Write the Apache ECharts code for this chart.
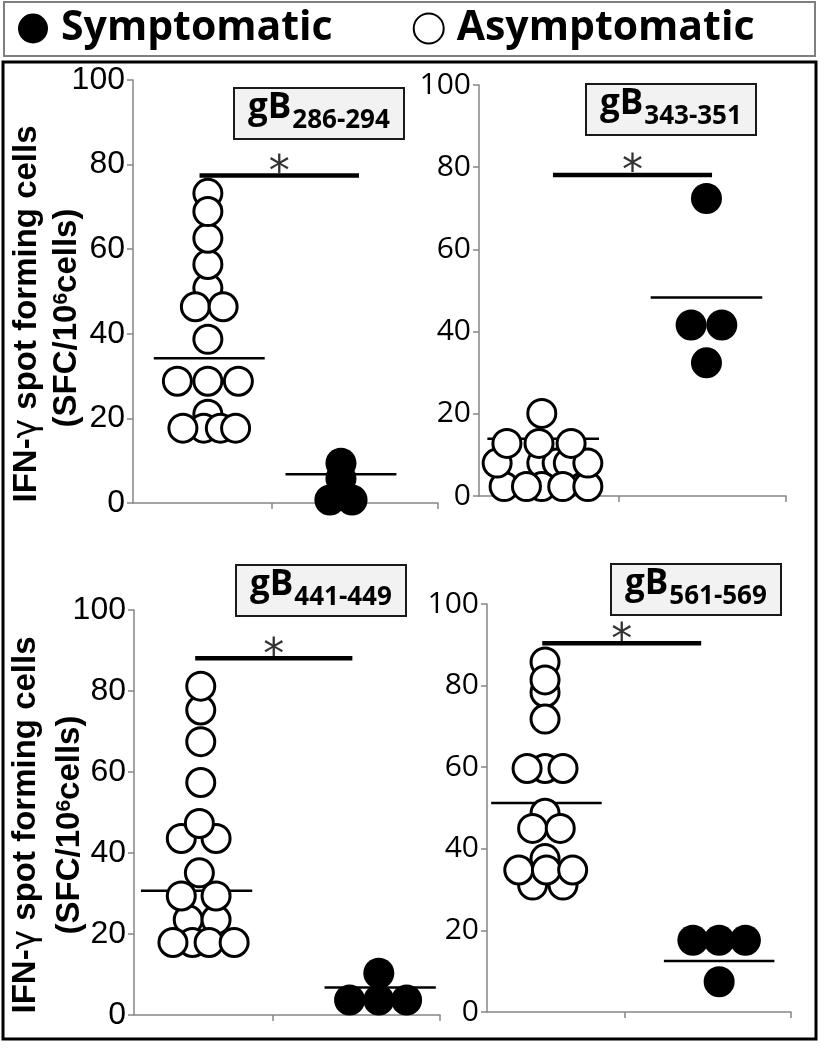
<!DOCTYPE html>
<html>
<head>
<meta charset="utf-8">
<script src="https://cdn.jsdelivr.net/npm/echarts@6/dist/echarts.min.js"></script>
<style>
  html, body { margin: 0; padding: 0; background: #fff; }
  #main { width: 820px; height: 1050px; }
</style>
</head>
<body>
<div id="main"></div>
<script>
// peptide labels
var peptides = ['286-294', '343-351', '441-449', '561-569']

// gB286-294
var asym1Y = [50.8, 21.0, 17.7, 17.7, 17.7, 17.7, 28.8, 28.8, 28.8, 38.7, 46.4, 46.4, 56.4, 62.6, 73.2, 68.9]
var asym1X = [0.54, 0.54, 0.51, 0.63, 0.36, 0.74, 0.32, 0.54, 0.76, 0.54, 0.45, 0.65, 0.54, 0.54, 0.54, 0.54]
var sym1Y = [9.4, 5.8, 0.7, 0.7]
var sym1X = [1.50, 1.50, 1.42, 1.58]
var mean1 = [34.2, 6.8]
var center1 = [0.55, 1.50]
var sig1 = [0.48, 1.63, 77.4]

// gB343-351
var asym2Y = [8.0, 8.0, 8.0, 2.3, 2.3, 2.3, 2.3, 2.3, 8.0, 8.0, 12.8, 12.8, 12.8, 20.1]
var asym2X = [0.45, 0.56, 0.64, 0.45, 0.18, 0.34, 0.60, 0.78, 0.13, 0.78, 0.20, 0.43, 0.66, 0.45]
var sym2Y = [72.4, 41.6, 41.6, 32.4]
var sym2X = [1.63, 1.52, 1.74, 1.63]
var mean2 = [13.9, 48.3]
var center2 = [0.46, 1.63]
var sig2 = [0.53, 1.67, 78.1]

// gB441-449
var asym3Y = [23.5, 23.5, 17.9, 17.9, 17.9, 17.9, 35.1, 29.4, 29.4, 43.6, 43.6, 47.3, 57.4, 67.5, 75.3, 81.2]
var asym3X = [0.39, 0.59, 0.42, 0.54, 0.28, 0.72, 0.47, 0.34, 0.59, 0.34, 0.59, 0.47, 0.48, 0.48, 0.48, 0.48]
var sym3Y = [10.3, 3.7, 3.7, 3.7]
var sym3X = [1.76, 1.55, 1.76, 1.96]
var mean3 = [30.7, 6.8]
var center3 = [0.45, 1.77]
var sig3 = [0.44, 1.57, 88.1]

// gB561-569
var asym4Y = [85.8, 78.3, 81.4, 71.8, 59.7, 59.7, 59.7, 48.7, 45.0, 45.0, 37.6, 31.1, 31.1, 34.8, 34.8, 34.8]
var asym4X = [0.42, 0.42, 0.42, 0.42, 0.42, 0.29, 0.55, 0.42, 0.33, 0.53, 0.42, 0.33, 0.55, 0.23, 0.43, 0.62]
var sym4Y = [17.6, 17.6, 17.6, 7.4]
var sym4X = [1.49, 1.68, 1.87, 1.68]
var mean4 = [51.2, 12.5]
var center4 = [0.43, 1.68]
var sig4 = [0.40, 1.55, 90.4]

var panels = [
  { asymX: asym1X, asymY: asym1Y, symX: sym1X, symY: sym1Y, mean: mean1, center: center1, sig: sig1 },
  { asymX: asym2X, asymY: asym2Y, symX: sym2X, symY: sym2Y, mean: mean2, center: center2, sig: sig2 },
  { asymX: asym3X, asymY: asym3Y, symX: sym3X, symY: sym3Y, mean: mean3, center: center3, sig: sig3 },
  { asymX: asym4X, asymY: asym4Y, symX: sym4X, symY: sym4Y, mean: mean4, center: center4, sig: sig4 }
]

// layout of the four plots
var grids = [
  { left: 133, top: 80, width: 305, height: 423 },
  { left: 479, top: 85, width: 307, height: 411 },
  { left: 134, top: 610, width: 306, height: 405 },
  { left: 487, top: 604, width: 304, height: 408 }
]
var tickFonts = ['Liberation Sans', 'Open Sans', 'Liberation Sans', 'Open Sans']
var tickSizes = [32, 30, 32, 30]
var boxPos = [[234, 88], [586, 84], [236, 565], [611, 564]]

var axisGray = '#868686'
var halfMean = 0.4

function zip (xs, ys) {
  return xs.map(function (x, i) { return [x, ys[i]] })
}

var xAxes = [], yAxes = [], series = [], titles = []

panels.forEach(function (p, i) {
  xAxes.push({
    gridIndex: i, type: 'value', min: 0, max: 2.2,
    axisLine: { show: true, onZero: false, lineStyle: { color: axisGray, width: 1.5 } },
    axisTick: { show: true, length: 6, customValues: [1, 2.2], lineStyle: { color: axisGray, width: 1.5 } },
    axisLabel: { show: false },
    splitLine: { show: false }
  })
  yAxes.push({
    gridIndex: i, type: 'value', min: 0, max: 100, interval: 20,
    axisLine: { show: true, lineStyle: { color: axisGray, width: 1.5 } },
    axisTick: { show: true, length: 6, lineStyle: { color: axisGray, width: 1.5 } },
    axisLabel: { show: true, margin: 8, fontSize: tickSizes[i], fontFamily: tickFonts[i], color: '#000' },
    splitLine: { show: false }
  })

  var lineBase = { type: 'line', xAxisIndex: i, yAxisIndex: i, symbol: 'none', silent: true, z: 1 }
  series.push(Object.assign({}, lineBase, {
    data: [[p.center[0] - halfMean, p.mean[0]], [p.center[0] + halfMean, p.mean[0]]],
    lineStyle: { color: '#000', width: 2.5 }
  }))
  series.push(Object.assign({}, lineBase, {
    data: [[p.center[1] - halfMean, p.mean[1]], [p.center[1] + halfMean, p.mean[1]]],
    lineStyle: { color: '#000', width: 2.5 }
  }))
  series.push(Object.assign({}, lineBase, {
    data: [[p.sig[0], p.sig[2]], [p.sig[1], p.sig[2]]],
    lineStyle: { color: '#000', width: 4.5 }
  }))
  series.push({
    type: 'scatter', xAxisIndex: i, yAxisIndex: i, silent: true,
    data: [[(p.sig[0] + p.sig[1]) / 2, p.sig[2]]],
    symbolSize: 1, itemStyle: { color: 'rgba(0,0,0,0)' },
    label: { show: true, formatter: '*', position: 'top', distance: 0, offset: [0, 20],
      fontSize: 42, fontFamily: 'DejaVu Sans', color: '#000' }
  })
  series.push({
    name: 'Asymptomatic', type: 'scatter', xAxisIndex: i, yAxisIndex: i, silent: true, z: 3,
    data: zip(p.asymX, p.asymY), symbol: 'circle', symbolSize: 28,
    itemStyle: { color: '#fff', borderColor: '#000', borderWidth: 3, opacity: 1 }
  })
  series.push({
    name: 'Symptomatic', type: 'scatter', xAxisIndex: i, yAxisIndex: i, silent: true, z: 3,
    data: zip(p.symX, p.symY), symbol: 'circle', symbolSize: 31,
    itemStyle: { color: '#000', opacity: 1 }
  })

  titles.push({
    text: '{g|gB}{s|' + peptides[i] + '}',
    left: boxPos[i][0], top: boxPos[i][1],
    backgroundColor: '#f2f2f2', borderColor: '#1a1a1a', borderWidth: 2,
    padding: [3, 14, 5, 14],
    textStyle: {
      rich: {
        g: { fontSize: 35, fontWeight: 'bold', fontFamily: 'Open Sans', color: '#000', lineHeight: 40, verticalAlign: 'top' },
        s: { fontSize: 26, fontWeight: 'bold', fontFamily: 'Open Sans', color: '#000', lineHeight: 26,
          padding: [17, 0, 0, 1], verticalAlign: 'top' }
      }
    }
  })
})

var yTitleStyle = { fontSize: 33, fontWeight: 'bold', fontFamily: 'Liberation Sans', fill: '#000', align: 'center', verticalAlign: 'middle' }
var yTitleRich = {
  sup: { fontSize: 21, fontWeight: 'bold', fontFamily: 'Liberation Sans', lineHeight: 18, verticalAlign: 'top' },
  gam: { fontSize: 33, fontWeight: 'normal', fontFamily: 'DejaVu Sans' }
}
function yTitle (x1, y1, x2, y2) {
  return [
    { type: 'text', x: x1, y: y1, rotation: Math.PI / 2, silent: true,
      style: Object.assign({ text: 'IFN-{gam|γ} spot forming cells', rich: yTitleRich }, yTitleStyle) },
    { type: 'text', x: x2, y: y2, rotation: Math.PI / 2, silent: true,
      style: Object.assign({ text: '(SFC/10{sup|6}cells)', rich: yTitleRich }, yTitleStyle) }
  ]
}

var myChart = echarts.init(document.getElementById('main'))
var option = {
  animation: false,
  backgroundColor: '#fff',
  title: titles,
  legend: {
    data: ['Symptomatic', 'Asymptomatic'],
    left: 13, top: 3,
    icon: 'circle',
    itemWidth: 30, itemHeight: 30, itemGap: 80,
    selectedMode: false,
    textStyle: { fontSize: 41, fontWeight: 'bold', fontFamily: 'Open Sans', color: '#000', padding: [0, 0, 0, 8] }
  },
  grid: grids,
  xAxis: xAxes,
  yAxis: yAxes,
  series: series,
  graphic: [
    { type: 'rect', silent: true, z: -1, shape: { x: 4, y: 2, width: 811, height: 54 },
      style: { fill: 'none', stroke: '#7f7f7f', lineWidth: 2 } },
    { type: 'rect', silent: true, z: -1, shape: { x: 3, y: 62, width: 813, height: 977 },
      style: { fill: 'none', stroke: '#000', lineWidth: 3 } }
  ].concat(yTitle(27, 314, 67, 318), yTitle(26, 825, 70, 825))
}
myChart.setOption(option)
</script>
</body>
</html>
